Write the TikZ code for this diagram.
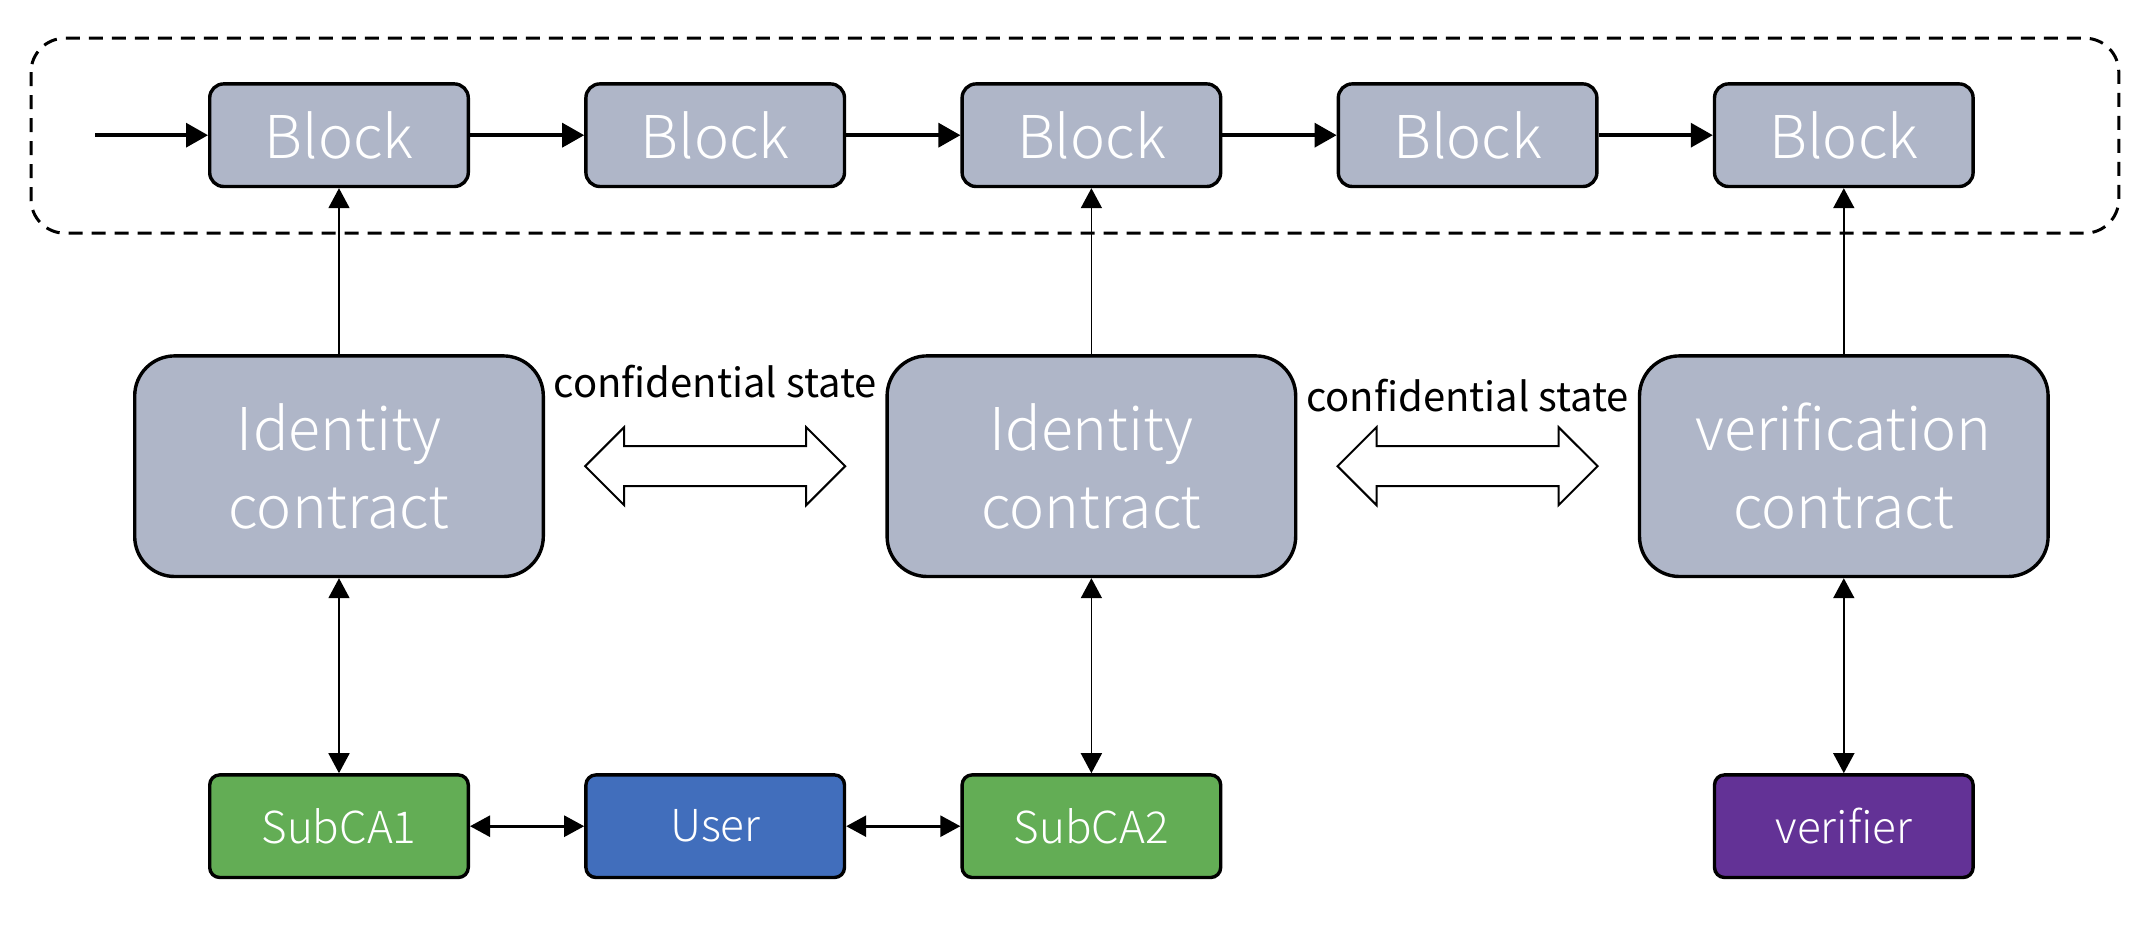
\documentclass[tikz,border=0pt]{standalone}
\usepackage{fontspec}
\newfontfamily\yahei{Noto Sans CJK SC}[UprightFont=* Light]
\newfontfamily\yaheireg{Noto Sans CJK SC}
\usetikzlibrary{arrows.meta,positioning,calc,shapes.arrows}
\definecolor{slate}{HTML}{AFB6C8}
\definecolor{leaf}{HTML}{63AD55}
\definecolor{royal}{HTML}{416EBC}
\definecolor{grape}{HTML}{633296}
\tikzset{
  block/.style={draw=black,line width=1.7pt,rounded corners=7pt,fill=slate,
    minimum width=129.3pt,minimum height=51.3pt,text=white,
    font=\yahei\fontsize{29.5}{36}\selectfont},
  contract/.style={draw=black,line width=1.7pt,rounded corners=20pt,fill=slate,
    minimum width=204.3pt,minimum height=110.3pt,align=center,text=white,
    font=\yahei\fontsize{29.5}{39}\selectfont},
  party/.style={draw=black,line width=1.7pt,rounded corners=5pt,
    minimum width=129.3pt,minimum height=51.3pt,text=white,
    font=\yahei\fontsize{22}{26}\selectfont},
  chain/.style={-{Triangle[length=11pt,width=12pt]},line width=1.7pt},
  link/.style={-{Triangle[length=10pt,width=10.5pt]},line width=0.9pt},
  duplex/.style={{Triangle[length=10pt,width=10.5pt]}-{Triangle[length=10pt,width=10.5pt]},
    line width=0.9pt},
  state/.style={double arrow,draw=black,line width=1pt,fill=white,
    minimum height=130pt,inner xsep=0pt,inner ysep=9.5pt,
    double arrow head extend=9.5pt},
  caption/.style={font=\yaheireg\fontsize{20}{24}\selectfont}
}
\begin{document}
\begin{tikzpicture}[node distance=83pt and 57.1pt]
  \useasboundingbox (0,0) rectangle (1076.5pt,467pt);
  % chain of blocks
  \node[block] (b1) at (169.5pt,399.4pt) {Block};
  \node[block,right=of b1] (b2) {Block};
  \node[block,right=of b2] (b3) {Block};
  \node[block,right=of b3] (b4) {Block};
  \node[block,right=of b4] (b5) {Block};
  \coordinate (entry) at ($(b1.west)+(-56.5pt,0)$);
  \draw[line width=1.5pt,dash pattern=on 7pt off 4.5pt,rounded corners=17pt]
    ($(b1.north west)+(-88.5pt,22pt)$) rectangle ($(b5.south east)+(72pt,-22.5pt)$);

  % contracts
  \node[contract,below=of b1] (c1) {Identity\\contract};
  \node[contract,below=of b3] (c2) {Identity\\contract};
  \node[contract,below=of b5] (c3) {verification\\contract};

  % parties
  \node[party,fill=leaf,below=97.5pt of c1] (sub1) {SubCA1};
  \node[party,fill=royal,right=of sub1] (user) {User};
  \node[party,fill=leaf,right=of user] (sub2) {SubCA2};
  \node[party,fill=grape,below=97.5pt of c3] (veri) {verifier};

  % confidential state exchange
  \node[state] (s1) at ($(c1.east)!0.5!(c2.west)$) {};
  \node[state] (s2) at ($(c2.east)!0.5!(c3.west)$) {};
  \node[caption,above=20pt of s1] (l1) {confidential state};
  \node[caption,above=13pt of s2] (l2) {confidential state};

  \draw[chain] (entry) -- (b1);
  \foreach \a/\b in {b1/b2,b2/b3,b3/b4,b4/b5}
    \draw[chain] (\a) -- (\b);
  \draw[link] (c1) -- (b1);
  \draw[link] (c2) -- (b3);
  \draw[link] (c3) -- (b5);
  \draw[duplex] (c1) -- (sub1);
  \draw[duplex] (c2) -- (sub2);
  \draw[duplex] (c3) -- (veri);
  \draw[duplex,line width=1.3pt] (sub1) -- (user);
  \draw[duplex,line width=1.3pt] (user) -- (sub2);
\end{tikzpicture}
\end{document}
